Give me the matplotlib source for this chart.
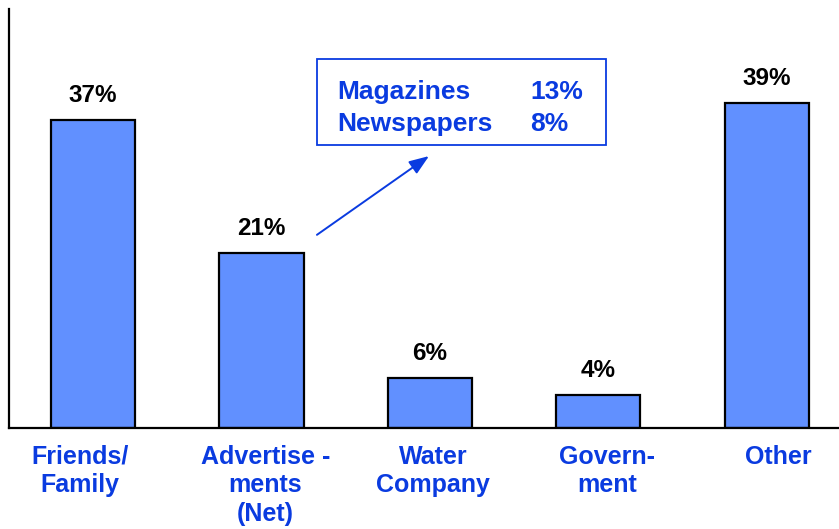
import matplotlib.pyplot as plt
import matplotlib.transforms as mtransforms
from matplotlib.patches import Rectangle

# data
categories = ["Friends/\nFamily", "Advertise -\nments\n(Net)", "Water\nCompany", "Govern-\nment", "Other"]
values = [37, 21, 6, 4, 39]
detail_labels = ["Magazines", "Newspapers"]
detail_values = [13, 8]

bar_color = "#6190FF"
text_blue = "#0A3BE0"

plt.rcParams['font.family'] = ['Liberation Sans', 'DejaVu Sans']
plt.rcParams['font.weight'] = 'bold'

fig = plt.figure(figsize=(8.39, 5.29), dpi=100)
ax = fig.add_axes([9 / 839, 101 / 529, 830 / 839, 419 / 529])

x = range(len(categories))
bars = ax.bar(x, values, width=0.5, color=bar_color, edgecolor="black", linewidth=1.6)

for xi, v in zip(x, values):
    ax.text(xi, v + 2.15, f"{v}%", ha="center", va="baseline", fontsize=17.5, fontweight="bold")

ax.set_xlim(-0.5, 4.43)
ax.set_ylim(0, 50.3)
ax.set_xticks(list(x))
ax.set_xticklabels(categories, fontsize=18, fontweight="bold", color=text_blue, linespacing=1.25)
ax.tick_params(axis="x", length=0, pad=12)
ax.set_yticks([])
ax.spines["top"].set_visible(False)
ax.spines["right"].set_visible(False)
ax.spines["left"].set_linewidth(1.6)
ax.spines["bottom"].set_linewidth(1.6)

# labels in the original sit slightly off the bar centres
label_shift_px = [-13, 4, 3, 9, 12]
for lbl, dx in zip(ax.get_xticklabels(), label_shift_px):
    lbl.set_transform(lbl.get_transform() + mtransforms.ScaledTranslation(dx / 100, 0, fig.dpi_scale_trans))

# callout box with breakdown of advertisements
ax.add_patch(Rectangle((0.371, 0.675), 0.348, 0.206, transform=ax.transAxes,
                       fill=False, edgecolor=text_blue, linewidth=1.3, clip_on=False))
for i, (lab, v) in enumerate(zip(detail_labels, detail_values)):
    yy = 0.786 - i * 0.077
    ax.text(0.396, yy, lab, transform=ax.transAxes, fontsize=19, fontweight="bold",
            color=text_blue, va="baseline", ha="left")
    ax.text(0.628, yy, f"{v}%", transform=ax.transAxes, fontsize=19, fontweight="bold",
            color=text_blue, va="baseline", ha="left")

ax.annotate("", xy=(0.506, 0.649), xytext=(0.371, 0.461),
            xycoords="axes fraction", textcoords="axes fraction",
            arrowprops=dict(arrowstyle="-|>,head_length=1.2,head_width=0.45",
                            color=text_blue, lw=1.4, shrinkA=0, shrinkB=0))

fig.savefig("out.png", dpi=100)
